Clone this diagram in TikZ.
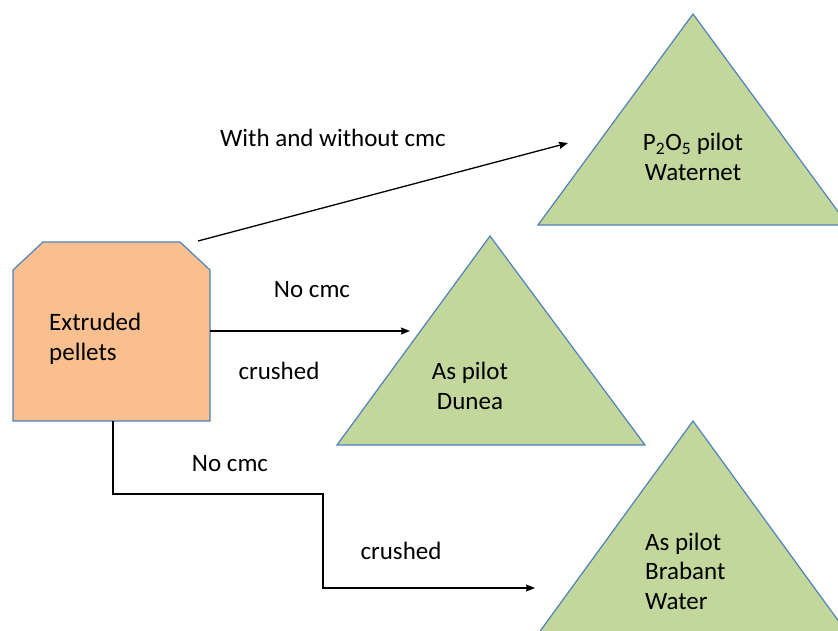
\documentclass[tikz,border=0pt]{standalone}
\usepackage{fontspec}
\setmainfont{Carlito}
\usepackage{tikz}
\usetikzlibrary{arrows.meta}

\definecolor{pelletfill}{RGB}{250,191,143}
\definecolor{pilotfill}{RGB}{195,214,155}
\definecolor{edgeblue}{RGB}{79,129,189}

\tikzset{
  pilot/.style={draw=edgeblue,fill=pilotfill,line width=1.2pt},
  flow/.style={line width=1.3pt,-{Stealth[length=9pt,width=7pt,inset=1pt]}},
  lbl/.style={font=\fontsize{25}{29.5}\selectfont,inner sep=0pt},
}

\begin{document}
\begin{tikzpicture}[x=1pt,y=-1pt]
\useasboundingbox (0,0) rectangle (838,630);
\clip (0,0) rectangle (838,630);
% pellets box
\draw[draw=edgeblue,fill=pelletfill,line width=1.2pt]
  (13,421) -- (13,270) -- (43,242) -- (180,242) -- (210,270) -- (210,421) -- cycle;
\node[lbl,align=left,anchor=west] (pellets) at (49,339) {Extruded\\pellets};
% pilots
\draw[pilot] (693,14) -- (848,225) -- (538,225) -- cycle;
\draw[pilot] (490,236) -- (645,445) -- (337,445) -- cycle;
\draw[pilot] (693,421) -- (848,634) -- (538,634) -- cycle;
\node[lbl,align=center] (waternet) at (693,157) {P\textsubscript{2}O\textsubscript{5} pilot\\Waternet};
\node[lbl,align=center] (dunea) at (470,386) {As pilot\\Dunea};
\node[lbl,align=left,anchor=west] (brabant) at (645,571) {As pilot\\Brabant\\Water};
% connector ends
\coordinate (a1) at (198,241);
\coordinate (b1) at (568,143);
\coordinate (a2) at (210,331);
\coordinate (b2) at (410,331);
\coordinate (a3) at (113,421);
\coordinate (k1) at (113,494);
\coordinate (k2) at (323,494);
\coordinate (k3) at (323,588);
\coordinate (b3) at (535,588);
\draw[flow] (a1) -- (b1);
\draw[flow] (a2) -- (b2);
\draw[flow] (a3) -- (k1) -- (k2) -- (k3) -- (b3);
% labels
\node[lbl] (withcmc) at (333,138) {With and without cmc};
\node[lbl] (nocmca) at (312,290) {No cmc};
\node[lbl] (crusha) at (279,371) {crushed};
\node[lbl] (nocmcb) at (230,464) {No cmc};
\node[lbl] (crushb) at (401,551) {crushed};
\end{tikzpicture}
\end{document}
